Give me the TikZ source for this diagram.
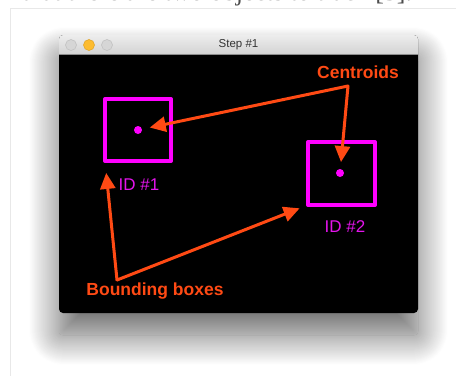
\documentclass[tikz,border=0pt]{standalone}
\usepackage{fontspec}
\setmainfont{Liberation Serif}
\setsansfont{Liberation Sans}
\usetikzlibrary{arrows.meta,shadows.blur}

\definecolor{callout}{HTML}{FF4A14}
\definecolor{boxmag}{HTML}{FF00FF}
\definecolor{idmag}{HTML}{E414EC}
\definecolor{titletop}{HTML}{EDEDED}
\definecolor{titlebot}{HTML}{D3D3D3}
\definecolor{lampoff}{HTML}{D6D6D6}
\definecolor{lampoffrim}{HTML}{BEBEBE}
\definecolor{lampon}{HTML}{FDBC2F}
\definecolor{lamponrim}{HTML}{DEA123}
\definecolor{pageline}{HTML}{E8E8E8}

\tikzset{
  magbox/.style={draw=boxmag, line width=4pt, line join=round, outer sep=0pt, inner sep=0pt},
  centre/.style={circle, fill=boxmag, minimum size=8pt, inner sep=0pt, outer sep=0pt},
  idlabel/.style={text=idmag, font=\sffamily\fontsize{17}{20}\selectfont, inner sep=0pt},
  calltext/.style={text=callout, font=\sffamily\bfseries\fontsize{17.5}{20}\selectfont, inner sep=0pt},
  callarrow/.style={draw=callout, line width=3pt, line cap=round, line join=round,
    -{Triangle[length=16pt, width=15pt]}},
  lamp/.style={circle, minimum size=11pt, inner sep=0pt, line width=0.5pt},
}

\begin{document}
\begin{tikzpicture}[x=1pt, y=-1pt]
\useasboundingbox (0,0) rectangle (456,376);

% running text of the page, cut by the top edge
\begin{scope}
  \clip (0,0) rectangle (456,376);
  \node[anchor=base west, inner sep=0pt, text=black!70,
        font=\fontsize{26}{30}\selectfont] (pagetext) at (22,0.5)
        {that there are two objects to track [3].};
\end{scope}

% page frame
\draw[pageline, line width=0.8pt] (10,376) -- (10,8) -- (456,8);

% window body with its soft drop shadow
\path[fill=black, rounded corners=4pt,
      blur shadow={shadow xshift=0pt, shadow yshift=-22pt,
                   shadow blur radius=30pt, shadow blur steps=30,
                   shadow opacity=60}]
  (59,35) rectangle (418,313);

% title bar
\path[top color=titletop, bottom color=titlebot]
  (59,54) [rounded corners=4pt] -- (59,35) -- (418,35) [sharp corners] -- (418,54) -- cycle;
\draw[black!45, line width=0.6pt] (59,54) -- (418,54);

\node[lamp, fill=lampoff, draw=lampoffrim] (closebtn) at (71,45) {};
\node[lamp, fill=lampon, draw=lamponrim] (minbtn) at (89,45) {};
\node[lamp, fill=lampoff, draw=lampoffrim] (zoombtn) at (107,45) {};
\node[text=black!80, font=\sffamily\fontsize{11.5}{13}\selectfont, inner sep=0pt]
  (title) at (238.5,45) {Step \#1};

% tracked objects
\node[magbox, minimum width=66pt, minimum height=62pt] (box1) at (138,130) {};
\node[centre] (dot1) at (138,130) {};
\node[idlabel] (id1) at (139,185) {ID \#1};

\node[magbox, minimum width=67pt, minimum height=63pt] (box2) at (341.5,173.5) {};
\node[centre] (dot2) at (340,173) {};
\node[idlabel] (id2) at (345,227) {ID \#2};

% callouts
\node[calltext] (cent) at (358,72) {Centroids};
\node[calltext] (bblabel) at (155,291) {Bounding boxes};

\coordinate (capex) at (348,86);
\coordinate (bapex) at (117,280);

\draw[callarrow, shorten >=8pt] (capex) -- (dot1);
\draw[callarrow, shorten >=7pt] (capex) -- (dot2);
\draw[callarrow, shorten >=12pt] (bapex) -- (box1.south west);
\draw[callarrow, shorten >=9pt] (bapex) -- (box2.south west);
\end{tikzpicture}
\end{document}
